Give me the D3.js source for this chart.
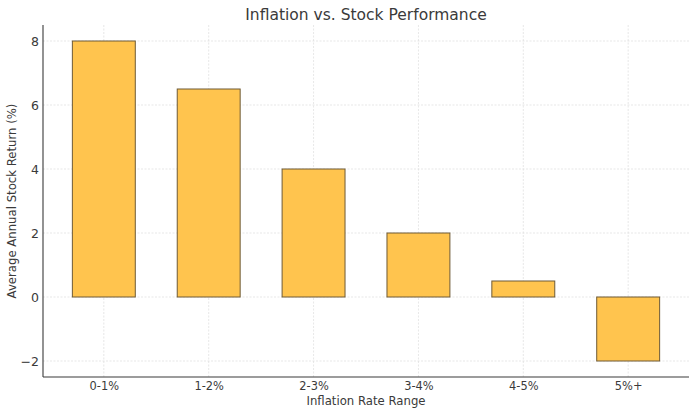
<!DOCTYPE html>
<html>
<head>
<meta charset="utf-8">
<script src="https://cdn.jsdelivr.net/npm/d3@7"></script>
<style>
  body { margin: 0; background: #fff; }
  svg { font-family: "DejaVu Sans", sans-serif; }
</style>
</head>
<body>
<div id="chart"></div>
<script>
const categories = ['0-1%', '1-2%', '2-3%', '3-4%', '4-5%', '5%+'];
const returns = [8, 6.5, 4, 2, 0.5, -2];
const yTicks = [-2, 0, 2, 4, 6, 8];

const W = 696, H = 415;
const m = {left: 43, right: 689, top: 25, bottom: 377};
const textColor = '#3a3a3a';

const svg = d3.select('#chart').append('svg')
  .attr('width', W)
  .attr('height', H);

// x is a linear index scale like matplotlib's categorical axis
const x = d3.scaleLinear()
  .domain([-0.58, categories.length - 1 + 0.58])
  .range([m.left, m.right]);

const y = d3.scaleLinear()
  .domain([-2.5, 8.5])
  .range([m.bottom, m.top]);

const barW = x(0.6) - x(0);

// Grid
const grid = svg.append('g');
grid.selectAll('.gx')
  .data(categories)
  .enter().append('line')
    .attr('x1', (d, i) => x(i)).attr('x2', (d, i) => x(i))
    .attr('y1', m.top).attr('y2', m.bottom)
    .attr('stroke', '#dcdcdc')
    .attr('stroke-width', 0.7)
    .attr('stroke-dasharray', '2,1.5');
grid.selectAll('.gy')
  .data(yTicks)
  .enter().append('line')
    .attr('x1', m.left).attr('x2', m.right)
    .attr('y1', d => y(d)).attr('y2', d => y(d))
    .attr('stroke', '#dcdcdc')
    .attr('stroke-width', 0.7)
    .attr('stroke-dasharray', '2,1.5');

// Bars
svg.selectAll('.bar')
  .data(returns)
  .enter().append('rect')
    .attr('class', 'bar')
    .attr('x', (d, i) => x(i) - barW / 2)
    .attr('y', d => y(Math.max(0, d)))
    .attr('width', barW)
    .attr('height', d => Math.abs(y(d) - y(0)))
    .attr('fill', '#ffc44e')
    .attr('stroke', '#6e5a36')
    .attr('stroke-width', 1);

// X axis
const xAxis = svg.append('g')
  .attr('transform', `translate(0,${m.bottom})`)
  .call(d3.axisBottom(x)
    .tickValues(d3.range(categories.length))
    .tickFormat(i => categories[i])
    .tickSize(0)
    .tickPadding(5));

// Y axis
const yAxis = svg.append('g')
  .attr('transform', `translate(${m.left},0)`)
  .call(d3.axisLeft(y)
    .tickValues(yTicks)
    .tickFormat(d => d < 0 ? '\u2212' + Math.abs(d) : d)
    .tickSize(0)
    .tickPadding(4));

[xAxis, yAxis].forEach(a => {
  a.select('.domain').attr('stroke', textColor).attr('stroke-width', 1.1);
  a.selectAll('.tick text')
    .attr('fill', textColor)
    .style('font-family', '"DejaVu Sans", sans-serif')
    .style('font-size', '11.4px');
});
yAxis.selectAll('.tick text').style('font-size', '12.5px');
// only the spine itself, no outer ticks
xAxis.select('.domain').attr('d', `M${m.left},0H${m.right}`);
yAxis.select('.domain').attr('d', `M0,${m.top}V${m.bottom}`);

// Title
svg.append('text')
  .attr('x', (m.left + m.right) / 2)
  .attr('y', 20)
  .attr('text-anchor', 'middle')
  .attr('fill', textColor)
  .style('font-size', '15.5px')
  .text('Inflation vs. Stock Performance');

// X label
svg.append('text')
  .attr('x', (m.left + m.right) / 2)
  .attr('y', 405)
  .attr('text-anchor', 'middle')
  .attr('fill', textColor)
  .style('font-size', '11.7px')
  .text('Inflation Rate Range');

// Y label
svg.append('text')
  .attr('transform', `translate(16,${(m.top + m.bottom) / 2}) rotate(-90)`)
  .attr('text-anchor', 'middle')
  .attr('fill', textColor)
  .style('font-size', '11.7px')
  .text('Average Annual Stock Return (%)');
</script>
</body>
</html>
